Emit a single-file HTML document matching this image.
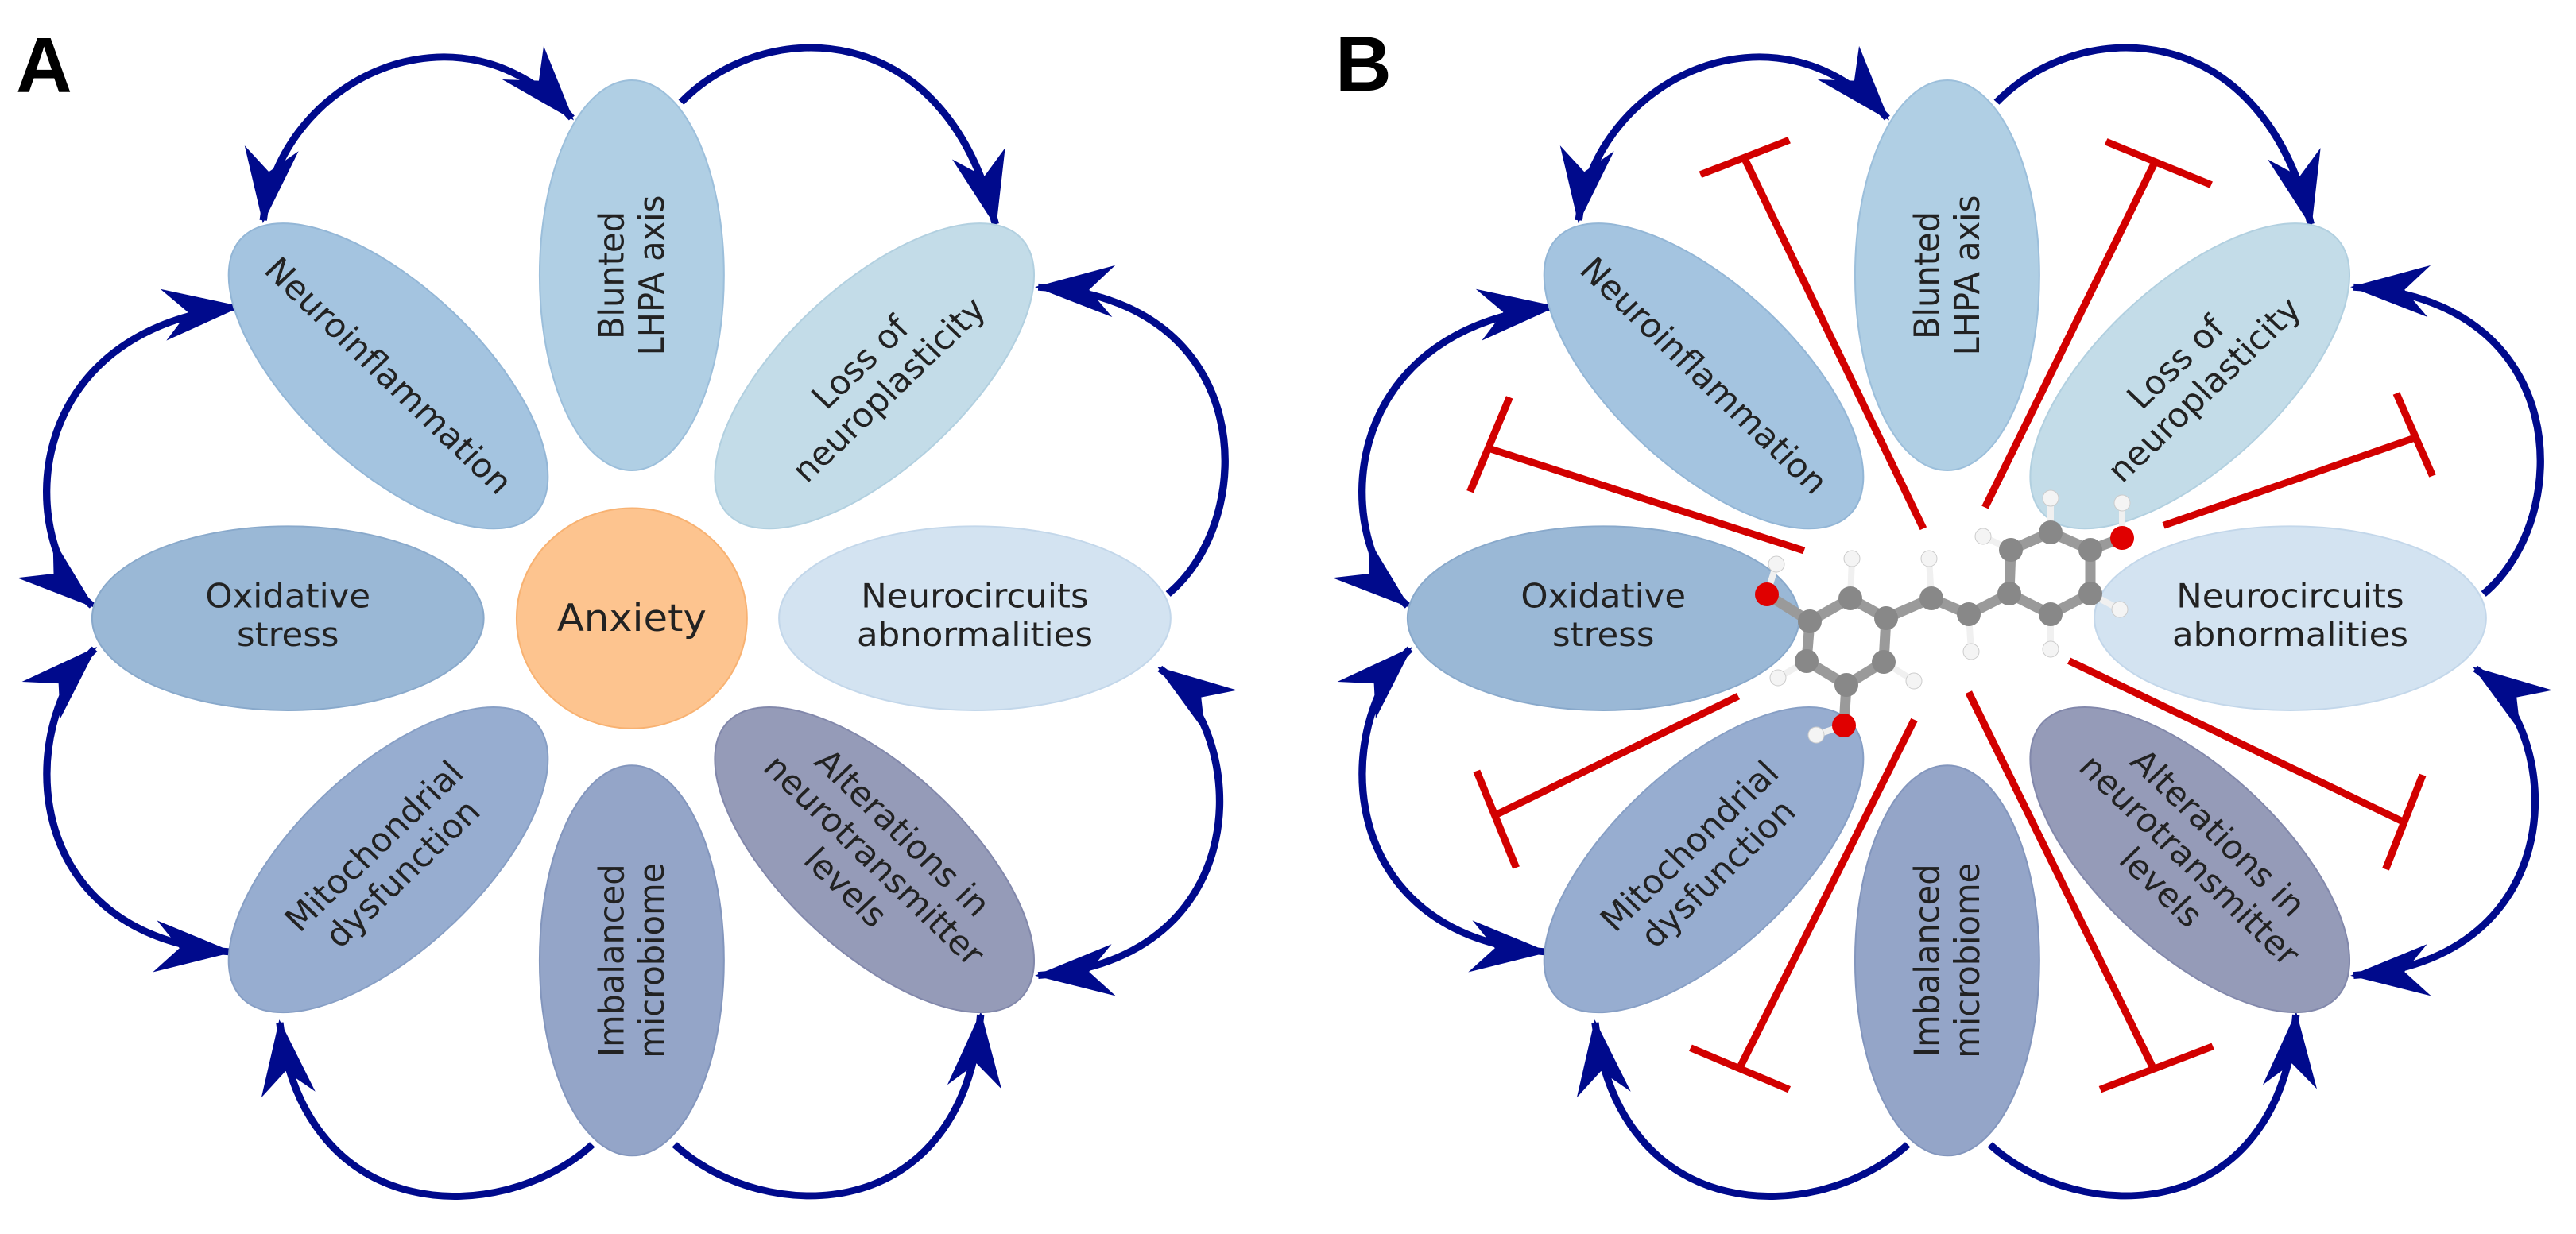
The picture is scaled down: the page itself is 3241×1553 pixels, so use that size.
<!DOCTYPE html>
<html><head><meta charset="utf-8"><style>
html,body{margin:0;padding:0;background:#fff;}
svg{display:block;}
text{font-family:"DejaVu Sans","Liberation Sans",sans-serif;font-size:42px;fill:#222;text-anchor:middle;}
.lbl{font-family:"Liberation Sans",sans-serif;font-weight:bold;font-size:98px;fill:#000;text-anchor:start;}
.arc{fill:none;stroke:#000a8c;stroke-width:9;}
.inh{stroke:#d20000;stroke-width:9;fill:none;}
</style></head><body>
<svg width="3241" height="1553" viewBox="0 0 3241 1553" xmlns="http://www.w3.org/2000/svg">
<defs>
<marker id="ah" markerUnits="userSpaceOnUse" markerWidth="110" markerHeight="80" viewBox="-100 -40 110 80" refX="0" refY="0" orient="auto-start-reverse">
<path d="M4,0 L-92,-33 L-62,0 L-92,33 Z" fill="#000a8c"/>
</marker>
</defs>

<text class="lbl" x="20" y="116">A</text>
<text class="lbl" x="1680" y="114">B</text>

<!-- PANEL A -->
<g transform="scale(1.035,0.99)">
<path class="arc" d="M320,280 C340,100 560,-10 695,150" marker-start="url(#ah)" marker-end="url(#ah)"/>
<path class="arc" d="M828,130 C930,20 1150,20 1210,285" marker-end="url(#ah)"/>
<path class="arc" d="M1420,755 C1530,660 1530,380 1262,365" marker-end="url(#ah)"/>
<path class="arc" d="M1262,1240 C1530,1220 1520,930 1410,850" marker-start="url(#ah)" marker-end="url(#ah)"/>
<path class="arc" d="M820,1455 C930,1560 1170,1560 1192,1290" marker-end="url(#ah)"/>
<path class="arc" d="M720,1455 C610,1560 370,1560 340,1300" marker-end="url(#ah)"/>
<path class="arc" d="M280,1210 C20,1190 20,920 115,825" marker-start="url(#ah)" marker-end="url(#ah)"/>
<path class="arc" d="M290,390 C20,420 20,690 112,770" marker-start="url(#ah)" marker-end="url(#ah)"/>

<ellipse cx="768" cy="350" rx="112" ry="248" fill="#b0cfe4" stroke="#9cbfdb" stroke-width="2"/>
<ellipse cx="768" cy="1221" rx="112" ry="248" fill="#94a5c8" stroke="#8396bd" stroke-width="2"/>
<ellipse cx="350" cy="786" rx="238" ry="117" fill="#9ab8d6" stroke="#89a9cb" stroke-width="2"/>
<ellipse cx="1185" cy="786" rx="238" ry="117" fill="#d3e3f1" stroke="#c3d7ea" stroke-width="2"/>
<ellipse cx="0" cy="0" rx="250" ry="113" transform="translate(472,478) rotate(45)" fill="#a4c4e0" stroke="#93b6d6" stroke-width="2"/>
<ellipse cx="0" cy="0" rx="250" ry="113" transform="translate(1063,478) rotate(-45)" fill="#c3dce8" stroke="#b2d0e0" stroke-width="2"/>
<ellipse cx="0" cy="0" rx="250" ry="113" transform="translate(472,1093) rotate(-45)" fill="#97add0" stroke="#879fc5" stroke-width="2"/>
<ellipse cx="0" cy="0" rx="250" ry="113" transform="translate(1063,1093) rotate(45)" fill="#959bb8" stroke="#8288ab" stroke-width="2"/>
<circle cx="768" cy="786" r="140" fill="#fdc48f" stroke="#f8b272" stroke-width="2"/>

<text x="768" y="802" style="font-size:48px">Anxiety</text>
<g transform="translate(768,350) rotate(-90)"><text y="-10">Blunted</text><text y="39">LHPA axis</text></g>
<g transform="translate(768,1221) rotate(-90)"><text y="-10">Imbalanced</text><text y="39">microbiome</text></g>
<text x="350" y="772">Oxidative</text><text x="350" y="821">stress</text>
<text x="1185" y="772">Neurocircuits</text><text x="1185" y="821">abnormalities</text>
<g transform="translate(472,478) rotate(45)"><text y="14">Neuroinflammation</text></g>
<g transform="translate(1063,478) rotate(-45)"><text y="-10">Loss of</text><text y="39">neuroplasticity</text></g>
<g transform="translate(472,1093) rotate(-45)"><text y="-10">Mitochondrial</text><text y="39">dysfunction</text></g>
<g transform="translate(1063,1093) rotate(45)"><text y="-34">Alterations in</text><text y="15">neurotransmitter</text><text y="64">levels</text></g>
</g>

<!-- PANEL B -->
<g transform="translate(1655,0) scale(1.035,0.99)">
<path class="arc" d="M320,280 C340,100 560,-10 695,150" marker-start="url(#ah)" marker-end="url(#ah)"/>
<path class="arc" d="M828,130 C930,20 1150,20 1210,285" marker-end="url(#ah)"/>
<path class="arc" d="M1420,755 C1530,660 1530,380 1262,365" marker-end="url(#ah)"/>
<path class="arc" d="M1262,1240 C1530,1220 1520,930 1410,850" marker-start="url(#ah)" marker-end="url(#ah)"/>
<path class="arc" d="M820,1455 C930,1560 1170,1560 1192,1290" marker-end="url(#ah)"/>
<path class="arc" d="M720,1455 C610,1560 370,1560 340,1300" marker-end="url(#ah)"/>
<path class="arc" d="M280,1210 C20,1190 20,920 115,825" marker-start="url(#ah)" marker-end="url(#ah)"/>
<path class="arc" d="M290,390 C20,420 20,690 112,770" marker-start="url(#ah)" marker-end="url(#ah)"/>

<ellipse cx="768" cy="350" rx="112" ry="248" fill="#b0cfe4" stroke="#9cbfdb" stroke-width="2"/>
<ellipse cx="768" cy="1221" rx="112" ry="248" fill="#94a5c8" stroke="#8396bd" stroke-width="2"/>
<ellipse cx="350" cy="786" rx="238" ry="117" fill="#9ab8d6" stroke="#89a9cb" stroke-width="2"/>
<ellipse cx="1185" cy="786" rx="238" ry="117" fill="#d3e3f1" stroke="#c3d7ea" stroke-width="2"/>
<ellipse cx="0" cy="0" rx="250" ry="113" transform="translate(472,478) rotate(45)" fill="#a4c4e0" stroke="#93b6d6" stroke-width="2"/>
<ellipse cx="0" cy="0" rx="250" ry="113" transform="translate(1063,478) rotate(-45)" fill="#c3dce8" stroke="#b2d0e0" stroke-width="2"/>
<ellipse cx="0" cy="0" rx="250" ry="113" transform="translate(472,1093) rotate(-45)" fill="#97add0" stroke="#879fc5" stroke-width="2"/>
<ellipse cx="0" cy="0" rx="250" ry="113" transform="translate(1063,1093) rotate(45)" fill="#959bb8" stroke="#8288ab" stroke-width="2"/>

<g transform="translate(768,350) rotate(-90)"><text y="-10" fill="#444">Blunted</text><text y="39" fill="#444">LHPA axis</text></g>
<g transform="translate(768,1221) rotate(-90)"><text y="-10" fill="#444">Imbalanced</text><text y="39" fill="#444">microbiome</text></g>
<text x="350" y="772" fill="#444">Oxidative</text><text x="350" y="821" fill="#444">stress</text>
<text x="1185" y="772" fill="#444">Neurocircuits</text><text x="1185" y="821" fill="#444">abnormalities</text>
<g transform="translate(472,478) rotate(45)"><text y="14" fill="#444">Neuroinflammation</text></g>
<g transform="translate(1063,478) rotate(-45)"><text y="-10" fill="#444">Loss of</text><text y="39" fill="#444">neuroplasticity</text></g>
<g transform="translate(472,1093) rotate(-45)"><text y="-10" fill="#444">Mitochondrial</text><text y="39" fill="#444">dysfunction</text></g>
<g transform="translate(1063,1093) rotate(45)"><text y="-34" fill="#444">Alterations in</text><text y="15" fill="#444">neurotransmitter</text><text y="64" fill="#444">levels</text></g>

<g class="inh" transform="translate(-34,0)">
<line x1="773" y1="672" x2="555" y2="200"/><line x1="502" y1="222" x2="610" y2="178"/>
<line x1="848" y1="645" x2="1055" y2="205"/><line x1="995" y1="180" x2="1123" y2="235"/>
<line x1="628" y1="700" x2="245" y2="570"/><line x1="222" y1="625" x2="270" y2="505"/>
<line x1="1065" y1="668" x2="1372" y2="556"/><line x1="1348" y1="500" x2="1392" y2="605"/>
<line x1="548" y1="885" x2="255" y2="1035"/><line x1="230" y1="980" x2="278" y2="1103"/>
<line x1="950" y1="840" x2="1357" y2="1045"/><line x1="1380" y1="985" x2="1335" y2="1105"/>
<line x1="762" y1="915" x2="550" y2="1357"/><line x1="490" y1="1332" x2="610" y2="1385"/>
<line x1="828" y1="880" x2="1052" y2="1357"/><line x1="988" y1="1385" x2="1125" y2="1330"/>
</g>
</g>

<!-- molecule (absolute coords) -->
<g>
<g stroke="#f0f0f0" stroke-width="8" stroke-linecap="round">
<line x1="2223" y1="748" x2="2235" y2="710"/><line x1="2320" y1="913" x2="2285" y2="925"/>
<line x1="2670" y1="677" x2="2670" y2="633"/><line x1="2328" y1="753" x2="2330" y2="703"/>
<line x1="2430" y1="753" x2="2427" y2="703"/><line x1="2477" y1="773" x2="2480" y2="820"/>
<line x1="2530" y1="692" x2="2495" y2="675"/><line x1="2580" y1="670" x2="2580" y2="627"/>
<line x1="2630" y1="747" x2="2667" y2="767"/><line x1="2580" y1="773" x2="2580" y2="817"/>
<line x1="2273" y1="832" x2="2237" y2="853"/><line x1="2370" y1="833" x2="2408" y2="857"/>
</g>
<g stroke="#9a9a9a" stroke-width="13" stroke-linecap="round">
<line x1="2277" y1="782" x2="2328" y2="753"/><line x1="2328" y1="753" x2="2373" y2="778"/>
<line x1="2373" y1="778" x2="2370" y2="833"/><line x1="2370" y1="833" x2="2323" y2="862"/>
<line x1="2323" y1="862" x2="2273" y2="832"/><line x1="2273" y1="832" x2="2277" y2="782"/>
<line x1="2373" y1="778" x2="2430" y2="753"/><line x1="2430" y1="753" x2="2477" y2="773"/>
<line x1="2477" y1="773" x2="2528" y2="747"/>
<line x1="2528" y1="747" x2="2530" y2="692"/><line x1="2530" y1="692" x2="2580" y2="670"/>
<line x1="2580" y1="670" x2="2630" y2="692"/><line x1="2630" y1="692" x2="2630" y2="747"/>
<line x1="2630" y1="747" x2="2580" y2="773"/><line x1="2580" y1="773" x2="2528" y2="747"/>
<line x1="2277" y1="782" x2="2223" y2="748"/><line x1="2323" y1="862" x2="2320" y2="913"/>
<line x1="2630" y1="692" x2="2670" y2="677"/>
</g>
<g fill="#f4f4f4" stroke="#ccc" stroke-width="1">
<circle cx="2235" cy="710" r="10"/><circle cx="2285" cy="925" r="10"/><circle cx="2670" cy="633" r="10"/>
<circle cx="2330" cy="703" r="10"/><circle cx="2427" cy="703" r="10"/><circle cx="2480" cy="820" r="10"/>
<circle cx="2495" cy="675" r="10"/><circle cx="2580" cy="627" r="10"/><circle cx="2667" cy="767" r="10"/>
<circle cx="2580" cy="817" r="10"/><circle cx="2237" cy="853" r="10"/><circle cx="2408" cy="857" r="10"/>
</g>
<g fill="#888">
<circle cx="2277" cy="782" r="15"/><circle cx="2328" cy="753" r="15"/><circle cx="2373" cy="778" r="15"/>
<circle cx="2370" cy="833" r="15"/><circle cx="2323" cy="862" r="15"/><circle cx="2273" cy="832" r="15"/>
<circle cx="2430" cy="753" r="15"/><circle cx="2477" cy="773" r="15"/>
<circle cx="2528" cy="747" r="15"/><circle cx="2530" cy="692" r="15"/><circle cx="2580" cy="670" r="15"/>
<circle cx="2630" cy="692" r="15"/><circle cx="2630" cy="747" r="15"/><circle cx="2580" cy="773" r="15"/>
</g>
<g fill="#e00000"><circle cx="2223" cy="748" r="15"/><circle cx="2320" cy="913" r="15"/><circle cx="2670" cy="677" r="15"/></g>
</g>
</svg>
</body></html>
